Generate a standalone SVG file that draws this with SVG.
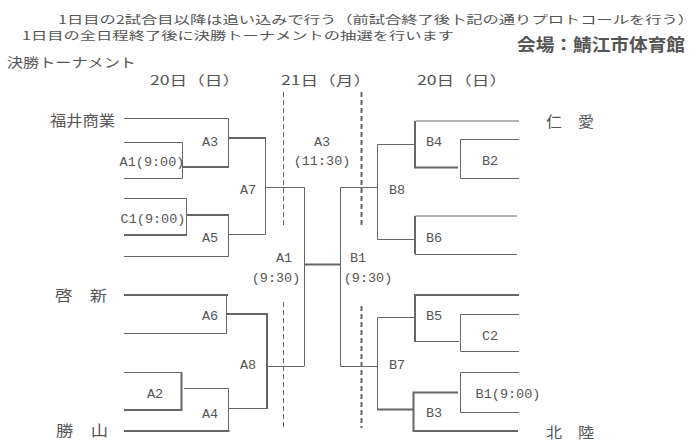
<svg xmlns="http://www.w3.org/2000/svg" width="700" height="447" viewBox="0 0 700 447">
<style>
.t{font-family:"Noto Sans CJK JP","Liberation Sans",sans-serif;fill:#555}
.h{font-size:13px}
.h2{font-size:11.5px}
.tm{font-size:14.5px}
.m{font-family:"Liberation Mono","Noto Sans CJK JP",monospace;font-size:13.5px;fill:#555;text-anchor:middle}
.ln{stroke:#666;stroke-width:1;fill:none}
.b{stroke:#666;stroke-width:2;fill:none}
.d1{stroke:#666;stroke-width:1;stroke-dasharray:5 3;fill:none}
.d2{stroke:#666;stroke-width:2;stroke-dasharray:5 3;fill:none}
</style>
<rect width="700" height="447" fill="#fff"/>
<g id="header">
<text class="t h2" x="58" y="23.5" textLength="636" lengthAdjust="spacingAndGlyphs">1日目の2試合目以降は追い込みで行う（前試合終了後卜記の通りプロトコールを行う）</text>
<text class="t h2" x="22" y="39.5" textLength="432" lengthAdjust="spacingAndGlyphs">1日目の全日程終了後に決勝トーナメントの抽選を行います</text>
<text class="t" x="517" y="51" font-size="17" font-weight="bold" textLength="168" lengthAdjust="spacingAndGlyphs">会場：鯖江市体育館</text>
<text class="t h" x="7" y="67" textLength="129" lengthAdjust="spacingAndGlyphs">決勝トーナメント</text>
<text class="t h" x="150" y="85" textLength="90" lengthAdjust="spacingAndGlyphs">20日（日）</text>
<text class="t h" x="281" y="85" textLength="90" lengthAdjust="spacingAndGlyphs">21日（月）</text>
<text class="t h" x="417" y="85" textLength="90" lengthAdjust="spacingAndGlyphs">20日（日）</text>
</g>
<g id="connectors">
<path class="d1" d="M283.5 92V227M283.5 302V428"/>
<path class="d2" d="M361.5 92V227M361.5 306V428"/>
<!-- left top -->
<path class="ln" d="M124 118.5H228.5V167"/>
<path class="ln" d="M124 142.5H182.5V178.5H124"/>
<path class="b" d="M183 167H229"/>
<path class="b" d="M228 138H266"/>
<path class="ln" d="M265.5 138V234.5H228"/>
<path class="ln" d="M265.5 187.5H304.5V366"/>
<path class="ln" d="M124 198.5H186.5V235"/>
<path class="b" d="M124 235H187"/>
<path class="b" d="M186 215H229"/>
<path class="ln" d="M228.5 215V256.5H124"/>
<!-- left bottom -->
<path class="b" d="M124 295H228"/>
<path class="ln" d="M226.5 295V333.5H124"/>
<path class="b" d="M227 314H267V409"/>
<path class="ln" d="M267 366.5H304.5"/>
<path class="ln" d="M124 372.5H181.5"/>
<path class="b" d="M181.5 372V410H124"/>
<path class="ln" d="M184 388.5H228.5V431"/>
<path class="b" d="M124 431H229.5"/>
<path class="ln" d="M228.5 408.5H267"/>
<!-- center -->
<path class="b" d="M304 264.5H341"/>
<path class="ln" d="M377.5 187.5H340.5V366.5H377.5"/>
<!-- right top -->
<path class="ln" d="M519 121H415.5"/>
<path class="b" d="M415 121V167.5H458"/>
<path class="ln" d="M519 139.5H460.5V178.5H519"/>
<path class="ln" d="M415 144.5H377.5V239.5H415"/>
<path class="ln" d="M517 216H415.5"/>
<path class="b" d="M415 216V254"/>
<path class="ln" d="M415 254.5H517"/>
<!-- right bottom -->
<path class="b" d="M519 295H415V342"/>
<path class="ln" d="M415 341.5H459"/>
<path class="ln" d="M519 314.5H460.5V351.5H519"/>
<path class="ln" d="M415 317.5H377.5V409"/>
<path class="b" d="M377 409.5H414"/>
<path class="b" d="M458 392.5H413.5V431H518"/>
<path class="ln" d="M519 372.5H460.5V412.5H519"/>
</g>
<g id="team-fukuishogyo"><text class="t tm" x="50" y="126" textLength="65" lengthAdjust="spacingAndGlyphs">福井商業</text></g>
<g id="team-keishin"><text class="t tm" x="55" y="301" textLength="52" lengthAdjust="spacingAndGlyphs">啓　新</text></g>
<g id="team-katsuyama"><text class="t tm" x="56" y="436" textLength="52" lengthAdjust="spacingAndGlyphs">勝　山</text></g>
<g id="team-jinai"><text class="t tm" x="546" y="127" textLength="48" lengthAdjust="spacingAndGlyphs">仁　愛</text></g>
<g id="team-hokuriku"><text class="t tm" x="546" y="438" textLength="48" lengthAdjust="spacingAndGlyphs">北　陸</text></g>
<g id="match-A1-900"><text class="m" x="152" y="166">A1(9:00)</text></g>
<g id="match-C1-900"><text class="m" x="153" y="222.5">C1(9:00)</text></g>
<g id="match-A3"><text class="m" x="210" y="145.5">A3</text></g>
<g id="match-A5"><text class="m" x="210" y="241.5">A5</text></g>
<g id="match-A7"><text class="m" x="248" y="193.5">A7</text></g>
<g id="match-A6"><text class="m" x="210" y="320">A6</text></g>
<g id="match-A8"><text class="m" x="248" y="369">A8</text></g>
<g id="match-A2"><text class="m" x="155" y="398">A2</text></g>
<g id="match-A4"><text class="m" x="210" y="417.5">A4</text></g>
<g id="match-A3-final"><text class="m" x="322" y="145.5">A3</text><text class="m" x="322" y="165">(11:30)</text></g>
<g id="match-A1-semi"><text class="m" x="284" y="261.5">A1</text><text class="m" x="276" y="281.5">(9:30)</text></g>
<g id="match-B1-semi"><text class="m" x="358" y="261.5">B1</text><text class="m" x="368" y="281.5">(9:30)</text></g>
<g id="match-B4"><text class="m" x="434" y="145.5">B4</text></g>
<g id="match-B2"><text class="m" x="490" y="165">B2</text></g>
<g id="match-B8"><text class="m" x="397" y="194">B8</text></g>
<g id="match-B6"><text class="m" x="434" y="242">B6</text></g>
<g id="match-B5"><text class="m" x="434" y="320">B5</text></g>
<g id="match-C2"><text class="m" x="490" y="340">C2</text></g>
<g id="match-B7"><text class="m" x="397" y="369">B7</text></g>
<g id="match-B1-900"><text class="m" x="508" y="398">B1(9:00)</text></g>
<g id="match-B3"><text class="m" x="434" y="416.5">B3</text></g>
</svg>
